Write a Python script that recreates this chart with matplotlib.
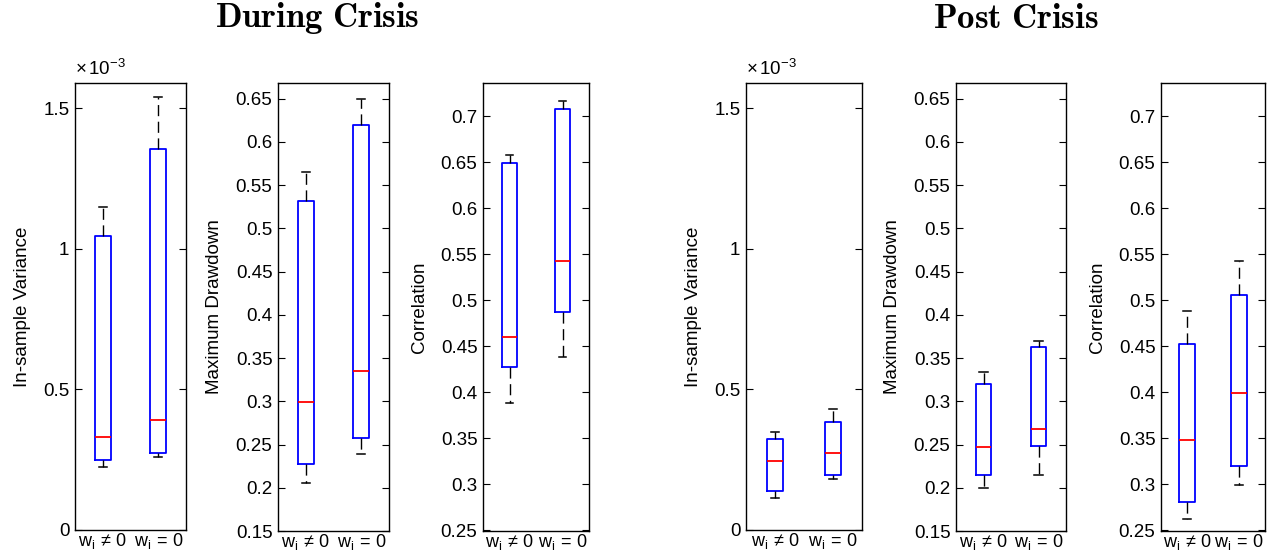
import numpy as np
import matplotlib
matplotlib.use('Agg')
from matplotlib import pyplot as plt

plt.rcParams['font.family'] = ['Liberation Sans', 'DejaVu Sans']
plt.rcParams['mathtext.fontset'] = 'custom'
plt.rcParams['mathtext.rm'] = 'Liberation Sans'
plt.rcParams['mathtext.it'] = 'Liberation Sans'

# data: (lower cap, q1, median, q3, upper cap)
groups = [r'$\mathrm{w_i}\,\neq\,0$', r'$\mathrm{w_i}\,=\,0$']

var_during = [(0.224e-3, 0.249e-3, 0.33e-3, 1.045e-3, 1.148e-3),
              (0.26e-3, 0.274e-3, 0.39e-3, 1.354e-3, 1.539e-3)]
mdd_during = [(0.2055, 0.2275, 0.299, 0.532, 0.5655),
              (0.239, 0.2576, 0.335, 0.619, 0.65)]
cor_during = [(0.388, 0.427, 0.46, 0.649, 0.6576),
              (0.438, 0.487, 0.542, 0.7076, 0.716)]

var_post = [(0.114e-3, 0.139e-3, 0.245e-3, 0.323e-3, 0.348e-3),
            (0.181e-3, 0.196e-3, 0.274e-3, 0.384e-3, 0.43e-3)]
mdd_post = [(0.2, 0.215, 0.247, 0.320, 0.334),
            (0.215, 0.248, 0.268, 0.363, 0.37)]
cor_post = [(0.262, 0.28, 0.348, 0.452, 0.488),
            (0.299, 0.32, 0.399, 0.506, 0.542)]

var_ticks = [0, 0.5e-3, 1e-3, 1.5e-3]
var_labels = ['0', '0.5', '1', '1.5']
mdd_ticks = np.arange(0.15, 0.651, 0.05)
cor_ticks = np.arange(0.25, 0.701, 0.05)

W, H = 1283, 557
fig = plt.figure(figsize=(W / 100, H / 100), dpi=100)


def add_ax(x0, x1, y0, y1):
    return fig.add_axes([x0 / W, (H - y1) / H, (x1 - x0) / W, (y1 - y0) / H])


def draw(ax, data, ylim, ticks, ylabel, labels=None):
    stats = []
    for lo, q1, med, q3, hi in data:
        stats.append(dict(whislo=lo, q1=q1, med=med, q3=q3, whishi=hi, fliers=[]))
    ax.bxp(stats, positions=[1, 2], widths=0.29, showfliers=False, capwidths=0.15,
           boxprops=dict(color='blue', linewidth=1.3),
           medianprops=dict(color='red', linewidth=1.3),
           whiskerprops=dict(color='black', linewidth=1.0, linestyle=(0, (8, 4))),
           capprops=dict(color='black', linewidth=1.1))
    ax.set_xlim(0.5, 2.5)
    ax.set_ylim(*ylim)
    ax.set_yticks(ticks)
    if labels is None:
        labels = ['%g' % round(t, 2) for t in ticks]
    ax.set_yticklabels(labels)
    ax.set_xticks([1, 2])
    ax.set_xticklabels(groups, fontsize=13)
    ax.tick_params(axis='x', length=0, pad=1)
    ax.tick_params(axis='y', direction='in', length=5, right=True, labelsize=13.5, pad=4)
    ax.set_ylabel(ylabel, fontsize=13.5, labelpad=9)
    for s in ax.spines.values():
        s.set_linewidth(1.0)


ax1 = add_ax(75, 186, 83, 530)
draw(ax1, var_during, (0, 1.59e-3), var_ticks, 'In-sample Variance', var_labels)
ax1.text(0, 1.01, r'$\times\,10^{-3}$', transform=ax1.transAxes, fontsize=13.5, va='bottom')
ax2 = add_ax(278, 389, 83, 531)
draw(ax2, mdd_during, (0.15, 0.668), mdd_ticks, 'Maximum Drawdown')
ax3 = add_ax(483, 589, 83, 531)
draw(ax3, cor_during, (0.249, 0.736), cor_ticks, 'Correlation')

ax4 = add_ax(746, 862, 83, 530)
draw(ax4, var_post, (0, 1.59e-3), var_ticks, 'In-sample Variance', var_labels)
ax4.text(0, 1.01, r'$\times\,10^{-3}$', transform=ax4.transAxes, fontsize=13.5, va='bottom')
ax5 = add_ax(956, 1066, 83, 531)
draw(ax5, mdd_post, (0.15, 0.668), mdd_ticks, 'Maximum Drawdown')
ax6 = add_ax(1161, 1265, 83, 531)
draw(ax6, cor_post, (0.249, 0.736), cor_ticks, 'Correlation')

fig.text(317 / W, 1 - 18 / H, r'$\mathbf{During\ Crisis}$', ha='center', va='center',
         fontsize=25, math_fontfamily='cm')
fig.text(1016 / W, 1 - 18 / H, r'$\mathbf{Post\ Crisis}$', ha='center', va='center',
         fontsize=25, math_fontfamily='cm')

fig.savefig('out.png', dpi=100)
